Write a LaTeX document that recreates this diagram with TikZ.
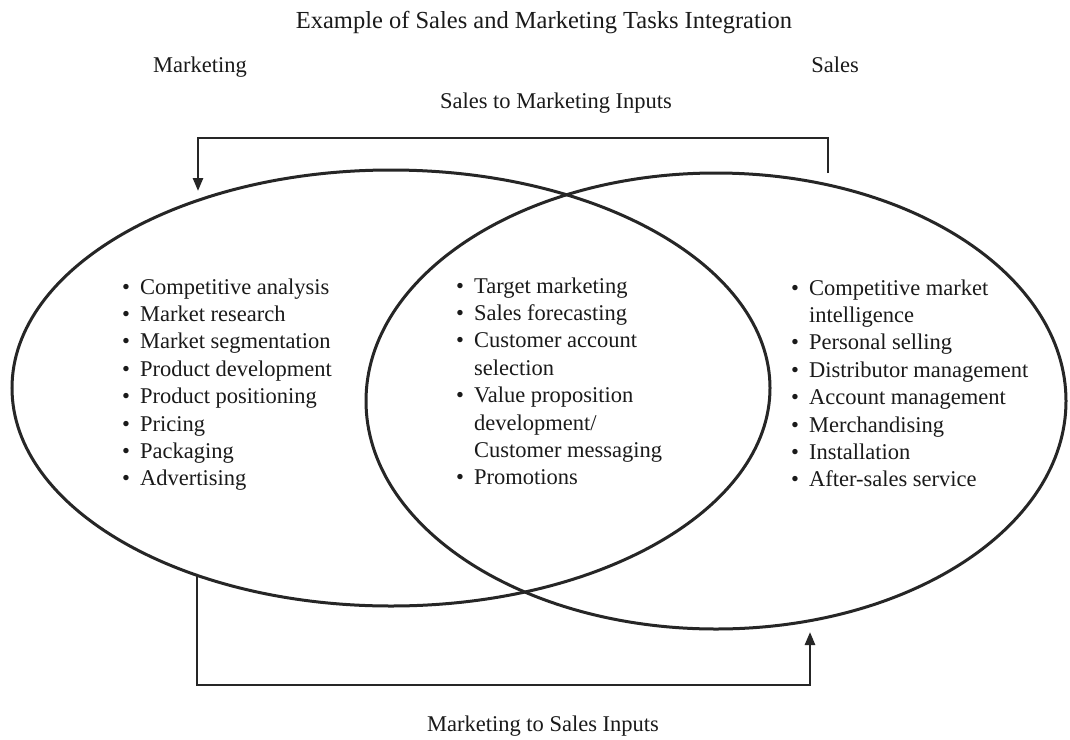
\documentclass[tikz,border=0pt]{standalone}
\usepackage{fontspec}
\setmainfont{Liberation Serif}
\usetikzlibrary{shapes.geometric,arrows.meta}

\definecolor{inkc}{HTML}{262626}
\definecolor{textc}{HTML}{1A1A1A}

\begin{document}
\begin{tikzpicture}[x=1pt,y=-1pt,
  ink/.style={draw=inkc, line width=3pt},
  venn/.style={ink, ellipse, inner sep=0pt},
  flow/.style={draw=inkc, line width=2.6pt, -{Triangle[length=13pt,width=10pt]}},
  heading/.style={text=textc, inner sep=0pt, anchor=base,
    font=\fontsize{22.5pt}{27.4pt}\selectfont},
  titletext/.style={heading, font=\fontsize{24.5pt}{29pt}\selectfont},
  tasklist/.style={heading, anchor=base west}]

\useasboundingbox (0,0) rectangle (1070,739);
\fill[white] (0,0) rectangle (1070,739);

% headings
\node[titletext] (title) at (544,28) {Example of Sales and Marketing Tasks Integration};
\node[heading] (mktlabel) at (200,72) {Marketing};
\node[heading] (saleslabel) at (835,72) {Sales};
\node[heading] (s2mlabel) at (556,108) {Sales to Marketing Inputs};
\node[heading] (m2slabel) at (543,731) {Marketing to Sales Inputs};

% the two overlapping areas
\node[venn, minimum width=758pt, minimum height=436pt] (mkt) at (391,388) {};
\node[venn, minimum width=700pt, minimum height=456pt] (sales) at (716,401) {};

% task lists
\node[tasklist] (mktonly) at (122,294) {\begin{tabular}[t]{@{}l@{\hspace{10pt}}l@{}}
\textbullet & Competitive analysis\\
\textbullet & Market research\\
\textbullet & Market segmentation\\
\textbullet & Product development\\
\textbullet & Product positioning\\
\textbullet & Pricing\\
\textbullet & Packaging\\
\textbullet & Advertising
\end{tabular}};

\node[tasklist] (shared) at (456,293) {\begin{tabular}[t]{@{}l@{\hspace{10pt}}l@{}}
\textbullet & Target marketing\\
\textbullet & Sales forecasting\\
\textbullet & Customer account\\
 & selection\\
\textbullet & Value proposition\\
 & development/\\
 & Customer messaging\\
\textbullet & Promotions
\end{tabular}};

\node[tasklist] (salesonly) at (791,295) {\begin{tabular}[t]{@{}l@{\hspace{10pt}}l@{}}
\textbullet & Competitive market\\
 & intelligence\\
\textbullet & Personal selling\\
\textbullet & Distributor management\\
\textbullet & Account management\\
\textbullet & Merchandising\\
\textbullet & Installation\\
\textbullet & After-sales service
\end{tabular}};

% feedback loops between the two areas
\coordinate (s2m-from) at (828,173);
\coordinate (s2m-rail) at (0,138);
\coordinate (s2m-to) at (198,191);
\draw[flow] (s2m-from) -- (s2m-from |- s2m-rail) -- (s2m-to |- s2m-rail) -- (s2m-to);

\coordinate (m2s-from) at (197,574);
\coordinate (m2s-rail) at (0,685);
\coordinate (m2s-to) at (810,632);
\draw[flow] (m2s-from) -- (m2s-from |- m2s-rail) -- (m2s-to |- m2s-rail) -- (m2s-to);

\end{tikzpicture}
\end{document}
